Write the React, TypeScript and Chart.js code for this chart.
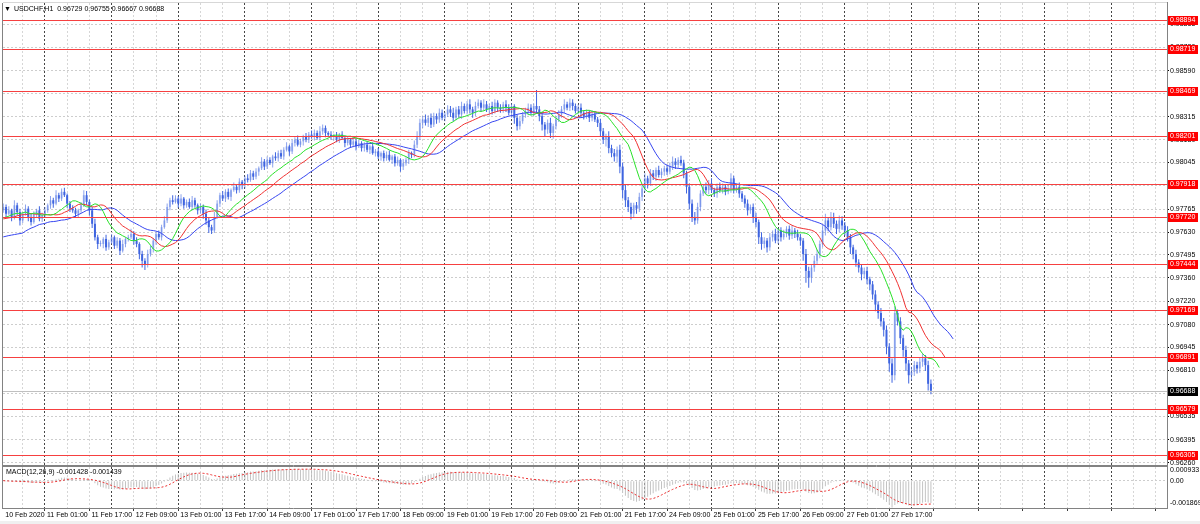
import React, { useEffect, useRef } from "react";
import { Chart, registerables } from "chart.js";

Chart.register(...registerables);

// ---------------- data (prices in 1e-5 units) ----------------
const symbolName = "USDCHF,H1";
const firstOpen = 97760;
const closes = [
  97780, 97740, 97760, 97720, 97790, 97750, 97700, 97740, 97770, 97720,
  97690, 97740, 97760, 97710, 97730, 97760, 97790, 97820, 97800, 97850,
  97830, 97870, 97850, 97800, 97770, 97760, 97740, 97760, 97790, 97850,
  97810, 97760, 97680, 97600, 97560, 97560, 97590, 97540, 97570, 97600,
  97550, 97580, 97520, 97560, 97590, 97600, 97620, 97580, 97560, 97500,
  97460, 97440, 97500, 97530, 97580, 97620, 97600, 97660, 97700, 97780,
  97820, 97810, 97830, 97800, 97830, 97790, 97810, 97780, 97820, 97790,
  97760, 97780, 97740, 97700, 97660, 97640, 97720, 97800, 97850, 97830,
  97870, 97840, 97880, 97900, 97880, 97930, 97910, 97950, 97940, 97980,
  97960, 97990, 98010, 98050, 98020, 98060, 98040, 98080, 98070, 98100,
  98080, 98120, 98140, 98110, 98160, 98180, 98150, 98170, 98200, 98180,
  98210, 98200, 98220, 98190, 98230, 98250, 98220, 98210, 98200, 98200,
  98180, 98210, 98190, 98160, 98180, 98150, 98170, 98140, 98160, 98130,
  98150, 98120, 98140, 98100, 98110, 98080, 98100, 98070, 98090, 98060,
  98080, 98040, 98060, 98020, 98040, 98060, 98100, 98090, 98150, 98200,
  98280, 98300, 98280, 98310, 98270, 98320, 98300, 98340, 98310, 98330,
  98360, 98340, 98310, 98360, 98330, 98380, 98350, 98390, 98360, 98340,
  98380, 98400, 98370, 98390, 98360, 98380, 98350, 98400, 98370, 98360,
  98390, 98370, 98340, 98380, 98310, 98260, 98290, 98330, 98350, 98370,
  98340, 98380, 98360, 98320, 98270, 98240, 98280, 98220, 98260, 98300,
  98330, 98360, 98390, 98370, 98400, 98380, 98350, 98370, 98340, 98320,
  98340, 98310, 98330, 98300, 98280, 98230, 98180, 98200, 98130, 98100,
  98080, 98120, 98020, 97880, 97820, 97780, 97740, 97790, 97770, 97840,
  97890, 97950, 97920, 97980, 97960, 98000, 97970, 97990, 98010, 97990,
  98020, 98050, 98030, 98060, 98040, 97980, 97900, 97800, 97720, 97700,
  97780, 97860, 97900, 97880, 97920, 97880, 97860, 97900, 97880, 97900,
  97870, 97890, 97950, 97880, 97900, 97860, 97830, 97800, 97760, 97780,
  97720, 97690, 97600, 97560, 97580, 97540, 97600, 97620, 97580, 97640,
  97600, 97620, 97650, 97610, 97640, 97620, 97600, 97580, 97500, 97400,
  97360, 97420, 97460, 97500, 97560, 97640, 97700, 97660, 97720, 97680,
  97650, 97700, 97670, 97640, 97600, 97540, 97500, 97450, 97420, 97380,
  97400, 97350, 97320, 97260, 97200, 97150, 97100, 97050, 96950, 96850,
  96780, 97150, 97100, 97000, 96930, 96850, 96780, 96800, 96840, 96820,
  96860, 96880, 96840, 96729, 96688,
];
const upperWick = [
  20, 15, 25, 10, 30, 15, 20, 10, 25, 15,
  20, 15, 10, 25, 15, 20, 10, 25, 15, 30,
  15, 20, 25, 10, 15, 20, 15, 10, 20, 30,
  25, 15, 20, 30, 15, 20, 10, 25, 15, 20,
  10, 20, 15, 25, 10, 15, 30, 15, 20, 10,
  20, 15, 25, 20, 15, 10, 20, 15, 25, 20,
  15, 30, 20, 15, 25, 10, 15, 20, 25, 15,
  10, 20, 15, 25, 20, 15, 30, 20, 15, 25,
  15, 20, 10, 25, 15, 20, 10, 15, 25, 20,
  15, 20, 10, 25, 15, 20, 15, 10, 25, 15,
  20, 15, 25, 10, 20, 15, 25, 15, 10, 20,
  15, 25, 20, 15, 30, 20, 15, 10, 20, 15,
  25, 10, 20, 15, 20, 10, 25, 15, 20, 10,
  15, 20, 10, 25, 15, 20, 10, 15, 20, 25,
  10, 15, 20, 10, 25, 15, 20, 10, 25, 30,
  25, 20, 30, 15, 25, 20, 15, 25, 20, 15,
  25, 20, 30, 15, 20, 25, 15, 20, 30, 15,
  25, 20, 15, 30, 20, 15, 25, 20, 15, 20,
  15, 25, 20, 15, 10, 20, 25, 15, 20, 25,
  20, 15, 95, 20, 25, 15, 20, 30, 15, 20,
  25, 20, 30, 15, 25, 20, 15, 20, 25, 15,
  20, 15, 25, 20, 15, 25, 20, 15, 30, 20,
  25, 20, 30, 25, 30, 20, 25, 15, 20, 25,
  20, 30, 15, 25, 20, 15, 25, 20, 15, 20,
  25, 30, 20, 15, 25, 20, 15, 20, 25, 30,
  25, 20, 15, 25, 20, 30, 15, 20, 25, 20,
  15, 20, 30, 15, 20, 25, 15, 20, 25, 15,
  20, 25, 15, 30, 20, 15, 25, 20, 30, 15,
  20, 25, 15, 20, 30, 15, 25, 20, 15, 30,
  25, 20, 30, 25, 20, 35, 40, 20, 30, 25,
  20, 30, 25, 20, 25, 20, 15, 25, 20, 15,
  20, 25, 15, 20, 25, 20, 30, 20, 25, 20,
  30, 40, 20, 25, 20, 25, 20, 30, 25, 20,
  25, 30, 20, 26, 26,
];
const lowerWick = [
  15, 20, 10, 25, 15, 20, 30, 15, 10, 25,
  20, 10, 25, 15, 20, 10, 15, 20, 25, 10,
  20, 15, 10, 25, 20, 15, 25, 20, 15, 10,
  20, 30, 25, 20, 30, 15, 25, 20, 15, 10,
  20, 15, 25, 10, 20, 15, 10, 25, 20, 30,
  40, 35, 20, 15, 20, 25, 15, 20, 10, 15,
  20, 15, 10, 25, 15, 20, 15, 10, 20, 15,
  25, 20, 30, 25, 35, 20, 15, 10, 20, 15,
  20, 15, 25, 10, 20, 15, 25, 20, 15, 10,
  20, 15, 25, 10, 20, 15, 10, 25, 15, 20,
  15, 20, 10, 25, 15, 20, 10, 15, 25, 15,
  20, 15, 25, 10, 15, 20, 25, 15, 20, 25,
  15, 20, 10, 25, 15, 20, 15, 25, 10, 20,
  20, 15, 25, 10, 20, 15, 25, 20, 15, 10,
  25, 20, 15, 30, 20, 15, 25, 20, 15, 20,
  20, 30, 15, 25, 20, 15, 25, 20, 15, 20,
  15, 25, 20, 15, 20, 25, 15, 20, 25, 30,
  20, 15, 25, 20, 15, 30, 20, 15, 25, 20,
  20, 25, 15, 30, 35, 25, 20, 15, 20, 25,
  15, 20, 25, 30, 35, 40, 25, 30, 35, 20,
  15, 20, 25, 15, 20, 25, 15, 20, 25, 20,
  15, 25, 20, 15, 25, 30, 25, 40, 30, 25,
  30, 35, 40, 50, 40, 30, 35, 25, 30, 20,
  25, 20, 30, 15, 20, 25, 15, 20, 25, 20,
  15, 20, 25, 20, 15, 30, 40, 35, 30, 25,
  20, 25, 15, 20, 25, 15, 20, 25, 15, 20,
  20, 15, 25, 20, 15, 25, 20, 25, 30, 20,
  35, 30, 40, 35, 25, 30, 20, 25, 15, 20,
  25, 15, 20, 25, 20, 25, 20, 30, 40, 70,
  60, 30, 25, 20, 25, 20, 30, 25, 20, 25,
  30, 20, 25, 30, 25, 40, 30, 25, 30, 35,
  25, 30, 35, 30, 40, 35, 30, 40, 45, 50,
  45, 30, 25, 35, 40, 45, 50, 30, 25, 30,
  25, 30, 35, 40, 21,
];
// Alligator values visible at the left edge (before the shifted lines begin)
const jawLead = [97602, 97606, 97610, 97613, 97616, 97619, 97622, 97625];
const teethLead = [97709, 97712, 97715, 97718, 97721];
const lipsLead = [97715, 97720, 97725];

const levels = [0.98894, 0.98719, 0.98469, 0.98201, 0.97918, 0.9772, 0.97444, 0.97169, 0.96891, 0.96579, 0.96305];
const priceTicks = [
  0.9626, 0.96395, 0.96535, 0.9667, 0.9681, 0.96945, 0.9708, 0.9722, 0.9736, 0.97495,
  0.9763, 0.97765, 0.97905, 0.98045, 0.9818, 0.98315, 0.98455, 0.9859, 0.9873, 0.98865,
];
const firstBarLabel = "10 Feb 2020";
const timeLabels = [
  "11 Feb 01:00", "11 Feb 17:00", "12 Feb 09:00", "13 Feb 01:00", "13 Feb 17:00",
  "14 Feb 09:00", "17 Feb 01:00", "17 Feb 17:00", "18 Feb 09:00", "19 Feb 01:00",
  "19 Feb 17:00", "20 Feb 09:00", "21 Feb 01:00", "21 Feb 17:00", "24 Feb 09:00",
  "25 Feb 01:00", "25 Feb 17:00", "26 Feb 09:00", "27 Feb 01:00", "27 Feb 17:00",
];
const firstLabelBar = 15; // bar index of "11 Feb 01:00"
const labelEvery = 16;
const gridEvery = 8;
const dayEvery = 24;
const macdBounds = [-0.001869, 0.000933];
const macdTitle = "MACD(12,26,9) -0.001428 -0.001439";
const viewRange = [-0.1, 419]; // visible bar index range
const priceRange = [0.962463, 0.989924];

// ---------------- derived ----------------
const FONT = '"Liberation Sans", "DejaVu Sans", Arial, sans-serif';
const toP = (v: number) => v / 100000;
const opens = closes.map((c, i) => (i === 0 ? firstOpen : closes[i - 1]));
const highs = closes.map((c, i) => Math.max(opens[i], c) + upperWick[i]);
const lows = closes.map((c, i) => Math.min(opens[i], c) - lowerWick[i]);
const N = closes.length;

function smmaLine(lead: number[], period: number) {
  const shift = lead.length;
  const pts: { x: number; y: number }[] = lead.map((v, i) => ({ x: i, y: toP(v) }));
  let s = lead[lead.length - 1];
  for (let k = 0; k < N; k++) {
    const med = (highs[k] + lows[k]) / 2;
    s = (s * (period - 1) + med) / period;
    pts.push({ x: k + shift, y: toP(s) });
  }
  return pts;
}

function macdSeries() {
  const main: number[] = [];
  const signal: number[] = [];
  let e12 = toP(closes[0]);
  let e26 = toP(closes[0]);
  for (let k = 0; k < N; k++) {
    const c = toP(closes[k]);
    e12 += ((c - e12) * 2) / 13;
    e26 += ((c - e26) * 2) / 27;
    main.push(e12 - e26);
    const from = Math.max(0, k - 8);
    const win = main.slice(from, k + 1);
    signal.push(win.reduce((a, b) => a + b, 0) / win.length);
  }
  return { main, signal };
}

const gridBars: number[] = [];
for (let k = firstLabelBar - gridEvery; k <= viewRange[1]; k += gridEvery) gridBars.push(k);

const isDay = (v: number) => Math.abs((v - firstLabelBar) % dayEvery) < 0.01;
const isLabel = (v: number) => v >= firstLabelBar && (v - firstLabelBar) % labelEvery === 0;
const DAY_GRID = "rgb(70,70,70)";
const LIGHT_GRID = "rgb(214,214,214)";
const gridColorFor = (ticksList: number[]) => (ctx: any) => {
  const v = ticksList[ctx.index];
  if (v === undefined || v === 0) return "rgba(0,0,0,0)";
  return isDay(v) ? DAY_GRID : LIGHT_GRID;
};

function fixWidth(s: any) {
  s.width = 33;
  s.paddingTop = 0;
  s.paddingBottom = 0;
}

export default function App() {
  const mainRef = useRef<HTMLCanvasElement>(null);
  const macdRef = useRef<HTMLCanvasElement>(null);

  useEffect(() => {
    const bull = closes.map((c, i) => c >= opens[i]);
    const wickData = closes.map((c, i) => ({ x: i, y: [toP(lows[i]), toP(highs[i])] }));
    const bodyData = closes.map((c, i) => ({ x: i, y: [toP(opens[i]), toP(c)] }));
    const lastClose = toP(closes[N - 1]);
    const fmt5 = (v: number) => v.toFixed(5);
    const mainTicks = gridBars.slice();
    const macdTicks = [0, ...gridBars];

    const mainOverlay = {
      id: "mainOverlay",
      afterDatasetsDraw(chart: any) {
        const { ctx, chartArea: a, scales } = chart;
        const y = scales.y;
        ctx.save();
        ctx.beginPath();
        ctx.rect(a.left, a.top, a.right - a.left, a.bottom - a.top);
        ctx.clip();
        ctx.lineWidth = 1;
        const by = Math.round(y.getPixelForValue(lastClose)) + 0.5;
        ctx.strokeStyle = "rgb(192,192,192)";
        ctx.beginPath();
        ctx.moveTo(a.left, by);
        ctx.lineTo(a.right, by);
        ctx.stroke();
        ctx.strokeStyle = "rgb(246,64,64)";
        levels.forEach((lv) => {
          const py = Math.round(y.getPixelForValue(lv)) + 0.5;
          ctx.beginPath();
          ctx.moveTo(a.left, py);
          ctx.lineTo(a.right, py);
          ctx.stroke();
        });
        ctx.restore();
      },
      afterDraw(chart: any) {
        const { ctx, chartArea: a, scales } = chart;
        const y = scales.y;
        ctx.save();
        ctx.lineWidth = 1;
        ctx.strokeStyle = "rgb(215,215,215)";
        ctx.beginPath();
        ctx.moveTo(a.left, a.top - 0.5);
        ctx.lineTo(a.right, a.top - 0.5);
        ctx.stroke();
        ctx.strokeStyle = "rgb(130,130,130)";
        ctx.beginPath();
        ctx.moveTo(a.left - 0.5, a.top);
        ctx.lineTo(a.left - 0.5, a.bottom + 1);
        ctx.moveTo(a.right + 0.5, a.top - 1);
        ctx.lineTo(a.right + 0.5, a.bottom + 1);
        ctx.moveTo(a.left - 1, a.bottom + 0.5);
        ctx.lineTo(a.right + 1, a.bottom + 0.5);
        ctx.stroke();

        ctx.font = `7px ${FONT}`;
        ctx.textBaseline = "middle";
        ctx.textAlign = "left";
        const box = (v: number, bg: string) => {
          const py = Math.round(y.getPixelForValue(v));
          ctx.fillStyle = bg;
          ctx.fillRect(a.right + 1, py - 4, 30, 9);
          ctx.fillStyle = "#fff";
          ctx.fillText(fmt5(v), a.right + 3, py + 0.5);
        };
        levels.forEach((v) => box(v, "rgb(255,0,0)"));
        box(lastClose, "#000");

        ctx.fillStyle = "#000";
        ctx.font = `7px ${FONT}`;
        ctx.fillText("\u25BC", 4, 9);
        const o = toP(opens[N - 1]), h = toP(highs[N - 1]), l = toP(lows[N - 1]);
        ctx.fillText(`${symbolName}  ${fmt5(o)} ${fmt5(h)} ${fmt5(l)} ${fmt5(lastClose)}`, 14, 9);
        ctx.restore();
      },
    };

    const mainChart = new Chart(mainRef.current as HTMLCanvasElement, {
      type: "bar",
      data: {
        datasets: [
          {
            type: "line",
            data: smmaLine(lipsLead, 5),
            borderColor: "rgb(40,225,40)",
            borderWidth: 1,
            pointRadius: 0,
            tension: 0,
          },
          {
            type: "line",
            data: smmaLine(teethLead, 8),
            borderColor: "rgb(240,50,50)",
            borderWidth: 1,
            pointRadius: 0,
            tension: 0,
          },
          {
            type: "line",
            data: smmaLine(jawLead, 13),
            borderColor: "rgb(55,70,240)",
            borderWidth: 1,
            pointRadius: 0,
            tension: 0,
          },
          {
            type: "bar",
            data: bodyData,
            backgroundColor: bull.map((b) => (b ? "rgba(95,130,232,0.5)" : "rgb(62,100,224)")),
            barThickness: 2,
            minBarLength: 1,
            inflateAmount: 0,
            grouped: false,
          },
          {
            type: "bar",
            data: wickData,
            backgroundColor: bull.map((b) => (b ? "rgba(80,115,228,0.65)" : "rgb(62,100,224)")),
            barThickness: 1,
            inflateAmount: 0,
            grouped: false,
          },
        ],
      } as any,
      options: {
        animation: false,
        responsive: false,
        maintainAspectRatio: false,
        layout: { padding: { left: 3, top: 3, right: 0, bottom: 1 } },
        plugins: { legend: { display: false }, tooltip: { enabled: false } },
        scales: {
          x: {
            type: "linear",
            min: viewRange[0],
            max: viewRange[1],
            offset: false,
            afterBuildTicks: (s: any) => {
              s.ticks = mainTicks.map((v) => ({ value: v }));
            },
            afterFit: (s: any) => {
              s.height = 0;
              s.paddingLeft = 0;
              s.paddingRight = 0;
            },
            grid: { color: gridColorFor(mainTicks), lineWidth: 1, drawTicks: false, offset: false },
            border: { display: false, dash: [2, 2] },
            ticks: { display: false, autoSkip: false },
          },
          y: {
            type: "linear",
            position: "right",
            min: priceRange[0],
            max: priceRange[1],
            beginAtZero: false,
            afterBuildTicks: (s: any) => {
              s.ticks = priceTicks.map((v) => ({ value: v }));
            },
            afterFit: fixWidth,
            grid: {
              color: "rgb(205,205,205)",
              lineWidth: 1,
              drawTicks: true,
              tickLength: 2,
              tickColor: "#000",
            },
            border: { display: false, dash: [2, 2] },
            ticks: {
              autoSkip: false,
              padding: 1,
              color: "#000",
              font: { family: FONT, size: 7 },
              callback: (v: any) => Number(v).toFixed(5),
            },
          },
        },
      } as any,
      plugins: [mainOverlay],
    });

    const { main, signal } = macdSeries();
    const macdOverlay = {
      id: "macdOverlay",
      afterDraw(chart: any) {
        const { ctx, chartArea: a, scales } = chart;
        const y = scales.y;
        ctx.save();
        ctx.lineWidth = 1;
        ctx.strokeStyle = "rgb(130,130,130)";
        ctx.beginPath();
        ctx.moveTo(a.left - 1, 0.5);
        ctx.lineTo(a.right + 1, 0.5);
        ctx.moveTo(a.left - 0.5, 0);
        ctx.lineTo(a.left - 0.5, a.bottom);
        ctx.moveTo(a.right + 0.5, 0);
        ctx.lineTo(a.right + 0.5, a.bottom);
        ctx.moveTo(a.left - 1, a.bottom + 0.5);
        ctx.lineTo(a.right + 1, a.bottom + 0.5);
        ctx.stroke();
        ctx.font = `7px ${FONT}`;
        ctx.textBaseline = "middle";
        ctx.textAlign = "left";
        ctx.fillStyle = "#000";
        const labels: [number, string][] = [
          [macdBounds[1], macdBounds[1].toFixed(6)],
          [0, "0.00"],
          [macdBounds[0], macdBounds[0].toFixed(6)],
        ];
        labels.forEach(([v, t]) => {
          const py = Math.min(Math.max(y.getPixelForValue(v), a.top + 3), a.bottom - 5);
          ctx.fillText(t, a.right + 3, py);
        });
        ctx.fillText(macdTitle, 6, 6.5);
        ctx.restore();
      },
    };

    const macdChart = new Chart(macdRef.current as HTMLCanvasElement, {
      type: "bar",
      data: {
        datasets: [
          {
            type: "line",
            data: signal.map((v, k) => ({ x: k, y: v })),
            borderColor: "rgb(235,45,45)",
            borderWidth: 1,
            borderDash: [2, 2],
            pointRadius: 0,
            tension: 0,
          },
          {
            type: "bar",
            data: main.map((v, k) => ({ x: k, y: v })),
            backgroundColor: "rgb(195,195,195)",
            barThickness: 1,
            inflateAmount: 0,
            grouped: false,
          },
        ],
      } as any,
      options: {
        animation: false,
        responsive: false,
        maintainAspectRatio: false,
        layout: { padding: { left: 3, top: 1, right: 0, bottom: 0 } },
        plugins: { legend: { display: false }, tooltip: { enabled: false } },
        scales: {
          x: {
            type: "linear",
            min: viewRange[0],
            max: viewRange[1],
            offset: false,
            afterBuildTicks: (s: any) => {
              s.ticks = macdTicks.map((v) => ({ value: v }));
            },
            afterFit: (s: any) => {
              s.height = 16;
              s.paddingLeft = 0;
              s.paddingRight = 0;
            },
            grid: {
              color: gridColorFor(macdTicks),
              lineWidth: 1,
              drawTicks: true,
              tickLength: 3,
              tickColor: (ctx: any) => {
                const v = macdTicks[ctx.index];
                return v !== undefined && isLabel(v) ? "rgb(60,60,60)" : "rgba(0,0,0,0)";
              },
              offset: false,
            },
            border: { display: false, dash: [2, 2] },
            ticks: {
              autoSkip: false,
              maxRotation: 0,
              minRotation: 0,
              align: "start",
              labelOffset: 2,
              padding: 0,
              color: "#000",
              font: { family: FONT, size: 7 },
              callback: (v: any) => {
                const k = Number(v);
                if (k === 0) return firstBarLabel;
                if (isLabel(k)) return timeLabels[(k - firstLabelBar) / labelEvery] ?? "";
                return "";
              },
            },
          },
          y: {
            type: "linear",
            position: "right",
            min: macdBounds[0],
            max: macdBounds[1],
            beginAtZero: false,
            afterBuildTicks: (s: any) => {
              s.ticks = [{ value: 0 }];
            },
            afterFit: fixWidth,
            grid: { color: "rgb(205,205,205)", lineWidth: 1, drawTicks: false },
            border: { display: false, dash: [2, 2] },
            ticks: { display: false },
          },
        },
      } as any,
      plugins: [macdOverlay],
    });

    return () => {
      mainChart.destroy();
      macdChart.destroy();
    };
  }, []);

  return (
    <div style={{ position: "absolute", left: 0, top: 0, width: 1200, height: 524, background: "#fff", overflow: "hidden" }}>
      <canvas ref={mainRef} width={1200} height={466} style={{ position: "absolute", left: 0, top: 0 }} />
      <canvas ref={macdRef} width={1200} height={58} style={{ position: "absolute", left: 0, top: 466 }} />
      <div style={{ position: "absolute", left: 0, top: 521, width: 1200, height: 3, background: "rgb(240,240,240)" }} />
    </div>
  );
}
